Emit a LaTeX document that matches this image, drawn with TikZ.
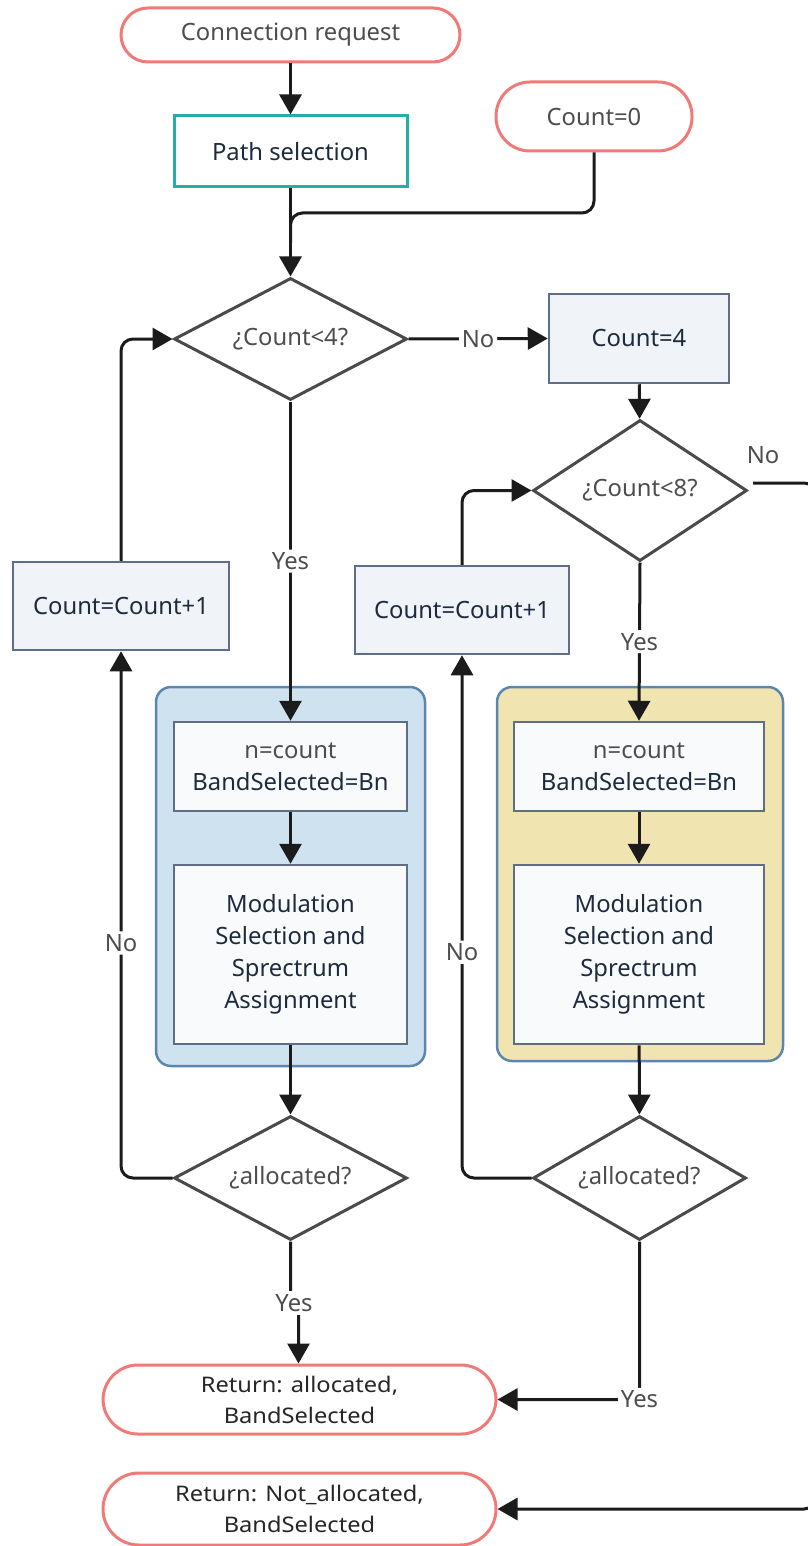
\documentclass[tikz,border=0pt]{standalone}
\usepackage{fontspec}
\setmainfont{Noto Sans}
\newfontfamily\widefont{Noto Sans}[FakeStretch=1.1]
\usetikzlibrary{shapes.geometric,arrows.meta,calc}

\definecolor{termred}{HTML}{F07A78}
\definecolor{tealedge}{HTML}{26ADA9}
\definecolor{boxedge}{HTML}{5F6E86}
\definecolor{boxfill}{HTML}{F0F3F8}
\definecolor{innerfill}{HTML}{F8FAFC}
\definecolor{grpblue}{HTML}{CFE2EF}
\definecolor{grpyellow}{HTML}{F0E4B0}
\definecolor{grpedge}{HTML}{5B86AF}
\definecolor{decedge}{HTML}{4A4A4A}
\definecolor{arrowcol}{HTML}{1B1B1B}
\definecolor{graytext}{HTML}{4D4D4D}
\definecolor{boxtext}{HTML}{1D2B3D}

\begin{document}
\begin{tikzpicture}[x=1pt,y=-1pt,
  font=\fontsize{23.8}{32}\selectfont,
  term/.style={draw=termred, line width=3pt, fill=white, align=center, inner sep=0pt},
  proc/.style={draw=boxedge, line width=2.5pt, fill=boxfill, text=boxtext, align=center, inner sep=0pt},
  inbox/.style={proc, fill=innerfill},
  grp/.style={draw=grpedge, line width=2.5pt, rounded corners=15pt, inner sep=0pt},
  dec/.style={diamond, aspect=1.9, draw=decedge, line width=3pt, fill=white, text=graytext, inner sep=0pt},
  flow/.style={draw=arrowcol, line width=3pt, rounded corners=12pt,
    -{Triangle[length=20pt,width=22pt]}},
  conn/.style={draw=arrowcol, line width=3pt, rounded corners=12pt},
  lbl/.style={fill=white, text=graytext, inner sep=3pt},
  retfont/.style={font=\widefont\fontsize{21.5}{31}\selectfont, text=black!85}
]
\useasboundingbox (0,0) rectangle (807,1546);

% container groups
\node[grp, fill=grpblue, minimum width=269pt, minimum height=379pt] (gA) at (290.5,876.5) {};
\node[grp, fill=grpyellow, minimum width=286pt, minimum height=374pt] (gB) at (640,874) {};

% terminals
\node[term, rounded corners=27pt, minimum width=339pt, minimum height=54pt, text=graytext] (req) at (290.5,35) {Connection request};
\node[term, rounded corners=34pt, minimum width=196pt, minimum height=69pt, text=graytext] (cnt0) at (594,116.5) {Count=0};
\node[term, retfont, rounded corners=35pt, minimum width=393pt, minimum height=69pt] (ret1) at (299.5,1399.5) {Return: allocated,\\BandSelected};
\node[term, retfont, rounded corners=36pt, minimum width=393pt, minimum height=72pt] (ret2) at (299.5,1509) {Return: Not\_allocated,\\BandSelected};

% processes
\node[draw=tealedge, line width=3pt, fill=white, text=boxtext, minimum width=233pt, minimum height=71pt] (path) at (290.5,151.5) {Path selection};
\node[proc, minimum width=180pt, minimum height=89pt] (cnt4) at (639,338.5) {Count=4};
\node[proc, minimum width=216pt, minimum height=88pt] (incA) at (121,606) {Count=Count+1};
\node[proc, minimum width=214pt, minimum height=88pt] (incB) at (462,610) {Count=Count+1};

\node[inbox, minimum width=233pt, minimum height=89pt] (nA) at (290.5,766.5) {{\color{graytext}n=count}\\BandSelected=Bn};
\node[inbox, minimum width=233pt, minimum height=179pt] (mA) at (290.5,954.5) {Modulation\\Selection and\\Sprectrum\\Assignment};
\node[inbox, minimum width=250pt, minimum height=89pt] (nB) at (639,766.5) {{\color{graytext}n=count}\\BandSelected=Bn};
\node[inbox, minimum width=250pt, minimum height=179pt] (mB) at (639,954.5) {Modulation\\Selection and\\Sprectrum\\Assignment};

% decisions
\node[dec, minimum width=233pt, minimum height=122pt] (d1) at (290.5,339) {¿Count<4?};
\node[dec, minimum width=214pt, minimum height=141pt] (d2) at (640,490.5) {¿Count<8?};
\node[dec, minimum width=233pt, minimum height=124pt] (d3) at (290.5,1178) {¿allocated?};
\node[dec, minimum width=213pt, minimum height=124pt] (d4) at (639.5,1178) {¿allocated?};

\coordinate (merge) at (290.5,213);
\coordinate (noStart) at (753,483);
\coordinate (edgeTop) at (816,483);
\coordinate (yesUp) at (290.5,1298);
\coordinate (yesDown) at (298.5,1308);

% connectors
\draw[flow] (req) -- (path);
\draw[flow] (path) -- (d1);
\draw[conn] (cnt0.south) |- (merge) -- ($(merge)+(0,30)$);
\draw[flow] (d1.east) -- node[lbl]{No} (cnt4.west);
\draw[flow] (cnt4) -- (d2);
\draw[flow] (d1.south) -- node[lbl]{Yes} (nA.north);
\draw[flow] (nA) -- (mA);
\draw[flow] (mA) -- (d3);
\draw[flow] (incA.north) |- (d1.west);
\draw[flow] (d3.west) -| node[lbl, pos=0.723]{No} (incA.south);
\draw[flow, rounded corners=0pt] (d3.south) -- (yesUp) -- (yesDown) -- (yesDown |- ret1.north);
\node[lbl] (yes3) at (294,1303) {Yes};

\draw[flow] (d2.south) -- node[lbl]{Yes} (nB.north);
\draw[flow] (nB) -- (mB);
\draw[flow] (mB) -- (d4);
\draw[flow] (incB.north) |- (d2.west);
\draw[flow] (d4.west) -| node[lbl, pos=0.716]{No} (incB.south);
\draw[flow] (d4.south) |- node[lbl, pos=0.5]{Yes} (ret1.east);

\draw[flow] (noStart) -- (edgeTop) |- (ret2.east);
\node[text=graytext] (no8) at (763,455) {No};
\end{tikzpicture}
\end{document}
